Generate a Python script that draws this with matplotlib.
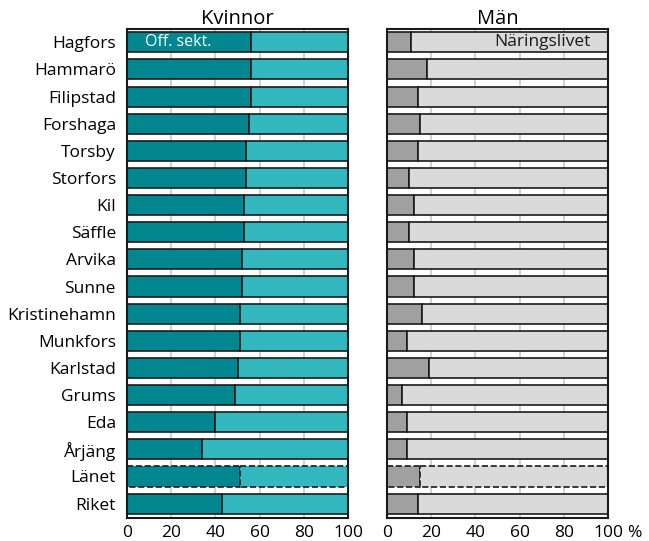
import matplotlib.pyplot as plt

plt.rcParams['font.family'] = ['Open Sans', 'DejaVu Sans']

kommuner = ["Hagfors", "Hammarö", "Filipstad", "Forshaga", "Torsby", "Storfors",
            "Kil", "Säffle", "Arvika", "Sunne", "Kristinehamn", "Munkfors",
            "Karlstad", "Grums", "Eda", "Årjäng", "Länet", "Riket"]
# andel anställda i offentlig sektor (%)
kvinnor_off = [56, 56, 56, 55, 54, 54, 53, 53, 52, 52, 51, 51, 50, 49, 40, 34, 51, 43]
man_off = [11, 18, 14, 15, 14, 10, 12, 10, 12, 12, 16, 9, 19, 7, 9, 9, 15, 14]
ticks = [0, 20, 40, 60, 80, 100]

fig = plt.figure(figsize=(6.49, 5.41), dpi=100)
ax1 = fig.add_axes([127 / 649, 23 / 541, 221 / 649, 489 / 541])
ax2 = fig.add_axes([387 / 649, 23 / 541, 221 / 649, 489 / 541])

y = list(range(len(kommuner)))
h = 0.74

panels = [
    (ax1, kvinnor_off, "#02868f", "#33b8bf", "Kvinnor"),
    (ax2, man_off, "#a0a0a0", "#dadada", "Män"),
]

for ax, vals, c_off, c_nar, titel in panels:
    rest = [100 - v for v in vals]
    for i in y:
        ls = "--" if kommuner[i] == "Länet" else "-"
        ax.barh(i, vals[i], height=h, color=c_off, edgecolor="#1a1a1a",
                linewidth=1.2, linestyle=ls, zorder=2)
        ax.barh(i, rest[i], left=vals[i], height=h, color=c_nar,
                edgecolor="#1a1a1a", linewidth=1.2, linestyle=ls, zorder=2)
    ax.set_xlim(0, 100)
    ax.set_ylim(len(kommuner) - 0.47, -0.49)
    ax.set_xticks(ticks)
    ax.set_xticklabels([str(t) for t in ticks], fontsize=12.5)
    ax.tick_params(length=0, pad=5)
    ax.grid(axis="x", color="#c8c8c8", linewidth=1.2, zorder=0)
    ax.set_axisbelow(True)
    for s in ax.spines.values():
        s.set_linewidth(1.5)
        s.set_color("#1a1a1a")
    ax.set_title(titel, fontsize=14.5, pad=2)

ax1.set_yticks(y)
ax1.set_yticklabels(kommuner, fontsize=12.5)
ax1.tick_params(axis="y", pad=8)
ax2.set_yticks([])

ax1.text(8, 0, "Off. sekt.", color="white", fontsize=11.5, va="center", ha="left", zorder=3)
ax2.text(92, 0, "Näringslivet", color="#1a1a1a", fontsize=12.5, va="center", ha="right", zorder=3)
ax2.annotate("%", xy=(100, 0), xycoords=ax2.get_xaxis_transform(),
             xytext=(14, -5), textcoords="offset points",
             fontsize=12.5, va="top", ha="left", annotation_clip=False)

plt.savefig("out.png", dpi=100)
